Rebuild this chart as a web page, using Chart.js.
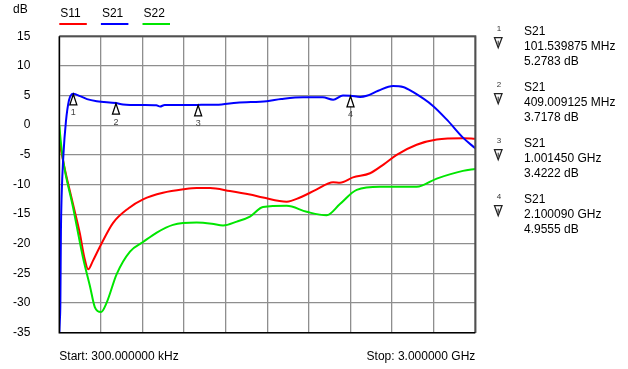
<!DOCTYPE html>
<html>
<head>
<meta charset="utf-8">
<script src="https://cdn.jsdelivr.net/npm/chart.js@4.4.1/dist/chart.umd.min.js"></script>
<style>
html,body{margin:0;padding:0;background:#fff;}
#wrap{width:628px;height:369px;position:relative;}
</style>
</head>
<body>
<div id="wrap"><canvas id="c" width="628" height="369"></canvas></div>
<script>
// ---- data (frequency in MHz, level in dB) ----
const seriesNames = ['S11', 'S21', 'S22'];
const seriesColors = ['#ff0000', '#0000ff', '#00e600'];

const s11Freq = [0.3, 15, 41, 99, 149, 180, 209, 240, 293, 387, 500, 604, 748, 900, 991, 1087, 1231, 1375, 1469, 1640, 1736, 1850, 1975, 2024, 2118, 2241, 2340, 2433, 2577, 2722, 2911, 3000];
const s11Db   = [-2.6, -4.5, -7.5, -13.3, -18.3, -22.2, -24.3, -23.0, -20.5, -16.5, -14.0, -12.5, -11.4, -10.8, -10.6, -10.6, -11.1, -11.7, -12.2, -12.9, -12.2, -10.9, -9.6, -9.7, -8.8, -8.1, -6.6, -5.0, -3.3, -2.4, -2.2, -2.3];

const s21Freq = [0.3, 4, 8, 12, 17, 30, 48, 70, 90, 101.5, 150, 200, 270, 409, 460, 600, 700, 727, 760, 900, 1001, 1100, 1171, 1280, 1496, 1600, 1758, 1900, 1975, 2046, 2100, 2169, 2217, 2300, 2407, 2479, 2550, 2695, 2800, 2911, 3000];
const s21Db   = [-35, -33, -30, -18, -12, -5, 0.6, 4.2, 5.2, 5.28, 4.9, 4.4, 4.05, 3.72, 3.5, 3.4, 3.35, 3.15, 3.4, 3.4, 3.42, 3.45, 3.5, 3.8, 4.05, 4.4, 4.7, 4.7, 4.3, 5.0, 4.96, 4.75, 4.95, 5.8, 6.6, 6.45, 5.6, 3.25, 0.8, -2.1, -3.9];

const s22Freq = [0.3, 10, 27, 99, 171, 221, 257, 301, 342, 414, 510, 604, 703, 820, 991, 1100, 1181, 1280, 1375, 1469, 1640, 1784, 1928, 2024, 2145, 2313, 2577, 2722, 2911, 3000];
const s22Db   = [0.0, -2.5, -5.8, -13.8, -22.3, -27.1, -30.7, -31.5, -29.9, -25.1, -21.3, -19.7, -18.1, -16.8, -16.4, -16.6, -16.9, -16.25, -15.4, -13.8, -13.6, -14.6, -15.2, -13.3, -10.9, -10.4, -10.4, -9.0, -7.7, -7.4];

// axis
const yTicks = [15, 10, 5, 0, -5, -10, -15, -20, -25, -30, -35];
const startMHz = 0.3, stopMHz = 3000, xDivisions = 10;
const startLabel = 'Start: 300.000000 kHz';
const stopLabel = 'Stop: 3.000000 GHz';
const yUnit = 'dB';

// markers (on S21)
const markerIds   = ['1', '2', '3', '4'];
const markerTrace = ['S21', 'S21', 'S21', 'S21'];
const markerFreq  = [101.539875, 409.009125, 1001.450, 2100.090];
const markerDb    = [5.2783, 3.7178, 3.4222, 4.9555];
const markerFreqText = ['101.539875 MHz', '409.009125 MHz', '1.001450 GHz', '2.100090 GHz'];
const markerDbText   = ['5.2783 dB', '3.7178 dB', '3.4222 dB', '4.9555 dB'];

const FONT = 'Arial, "Liberation Sans", sans-serif';

function pts(fx, fy){ return fx.map((f,i)=>({x:f, y:fy[i]})); }

const overlay = {
  id: 'overlay',
  afterDatasetsDraw(chart){
    const ctx = chart.ctx, a = chart.chartArea;
    const xs = chart.scales.x, ys = chart.scales.y;
    ctx.save();
    // frame
    ctx.lineWidth = 2;
    ctx.strokeStyle = '#505050';
    ctx.beginPath();
    ctx.moveTo(a.left, a.top); ctx.lineTo(a.right, a.top); ctx.lineTo(a.right, a.bottom);
    ctx.stroke();
    ctx.strokeStyle = '#000';
    ctx.lineWidth = 1.5;
    ctx.beginPath();
    ctx.moveTo(a.right, a.bottom); ctx.lineTo(a.left, a.bottom); ctx.lineTo(a.left, a.top);
    ctx.stroke();

    // markers on trace
    markerFreq.forEach((f,i)=>{
      const px = xs.getPixelForValue(f), py = ys.getPixelForValue(markerDb[i]);
      ctx.beginPath();
      ctx.moveTo(px, py + 0.5);
      ctx.lineTo(px + 3.5, py + 11);
      ctx.lineTo(px - 3.5, py + 11);
      ctx.closePath();
      ctx.fillStyle = '#fff';
      ctx.fill();
      ctx.lineWidth = 1.3;
      ctx.strokeStyle = '#000';
      ctx.stroke();
      ctx.fillStyle = '#444';
      ctx.font = '9px ' + FONT;
      ctx.textAlign = 'center';
      ctx.textBaseline = 'middle';
      ctx.fillText(markerIds[i], px, py + 19);
    });
    ctx.restore();
  },
  afterDraw(chart){
    const ctx = chart.ctx, a = chart.chartArea;
    ctx.save();
    ctx.fillStyle = '#000';
    ctx.font = '12px ' + FONT;
    ctx.textBaseline = 'middle';
    // unit
    ctx.textAlign = 'left';
    ctx.fillText(yUnit, 13, 10);
    // legend
    const legendX = [a.left, a.left + (a.right - a.left) / xDivisions, a.left + 2 * (a.right - a.left) / xDivisions];
    seriesNames.forEach((n,i)=>{
      const lx = legendX[i];
      ctx.fillStyle = '#000';
      ctx.fillText(n, lx + 1, 14);
      ctx.strokeStyle = seriesColors[i];
      ctx.lineWidth = 2;
      ctx.beginPath();
      ctx.moveTo(lx, 24); ctx.lineTo(lx + 27.5, 24);
      ctx.stroke();
    });
    // start / stop
    ctx.fillStyle = '#000';
    ctx.textAlign = 'left';
    ctx.fillText(startLabel, a.left, 356.5);
    ctx.textAlign = 'right';
    ctx.fillText(stopLabel, a.right, 356.5);
    // marker table
    markerIds.forEach((id,i)=>{
      const by = 31.7 + 56 * i;
      ctx.textAlign = 'left';
      ctx.fillStyle = '#000';
      ctx.font = '12px ' + FONT;
      ctx.fillText(markerTrace[i], 524, by);
      ctx.fillText(markerFreqText[i], 524, by + 15);
      ctx.fillText(markerDbText[i], 524, by + 29.5);
      ctx.font = '8px ' + FONT;
      ctx.textAlign = 'center';
      ctx.fillStyle = '#333';
      ctx.fillText(id, 499, by - 3);
      // down triangle symbol
      ctx.beginPath();
      ctx.moveTo(494.5, by + 6);
      ctx.lineTo(502, by + 6);
      ctx.lineTo(498.2, by + 16);
      ctx.closePath();
      ctx.lineWidth = 1.3;
      ctx.strokeStyle = '#222';
      ctx.stroke();
      ctx.beginPath();
      ctx.moveTo(498.2, by + 9); ctx.lineTo(498.2, by + 13);
      ctx.lineWidth = 1;
      ctx.stroke();
    });
    ctx.restore();
  }
};

const datasets = [
  {label: seriesNames[1], data: pts(s21Freq, s21Db), borderColor: seriesColors[1], order: 0},
  {label: seriesNames[2], data: pts(s22Freq, s22Db), borderColor: seriesColors[2], order: 1},
  {label: seriesNames[0], data: pts(s11Freq, s11Db), borderColor: seriesColors[0], order: 2}
].map(d => Object.assign(d, {showLine: true, pointRadius: 0, borderWidth: 2, cubicInterpolationMode: 'monotone', fill: false}));

new Chart(document.getElementById('c'), {
  type: 'scatter',
  data: {datasets},
  options: {
    responsive: false,
    animation: false,
    events: [],
    layout: {padding: {top: 30, right: 152.7, left: 0, bottom: 0}},
    plugins: {legend: {display: false}, tooltip: {enabled: false}},
    scales: {
      x: {
        type: 'linear', min: startMHz, max: stopMHz,
        afterBuildTicks(s){
          const step = (stopMHz - startMHz) / xDivisions;
          s.ticks = Array.from({length: xDivisions + 1}, (_, i) => ({value: startMHz + i * step}));
        },
        afterFit(s){ s.height = 27; },
        ticks: {display: false},
        grid: {color: '#8e8e8e', lineWidth: 1.3, drawTicks: false},
        border: {display: false}
      },
      y: {
        type: 'linear', min: -35, max: 15,
        afterBuildTicks(s){ s.ticks = yTicks.map(v => ({value: v})); },
        afterFit(s){ s.width = 59.3; },
        ticks: {color: '#000', font: {family: FONT, size: 12}, padding: 29},
        grid: {color: '#8e8e8e', lineWidth: 1.3, drawTicks: false},
        border: {display: false}
      }
    }
  },
  plugins: [overlay]
});
</script>
</body>
</html>
